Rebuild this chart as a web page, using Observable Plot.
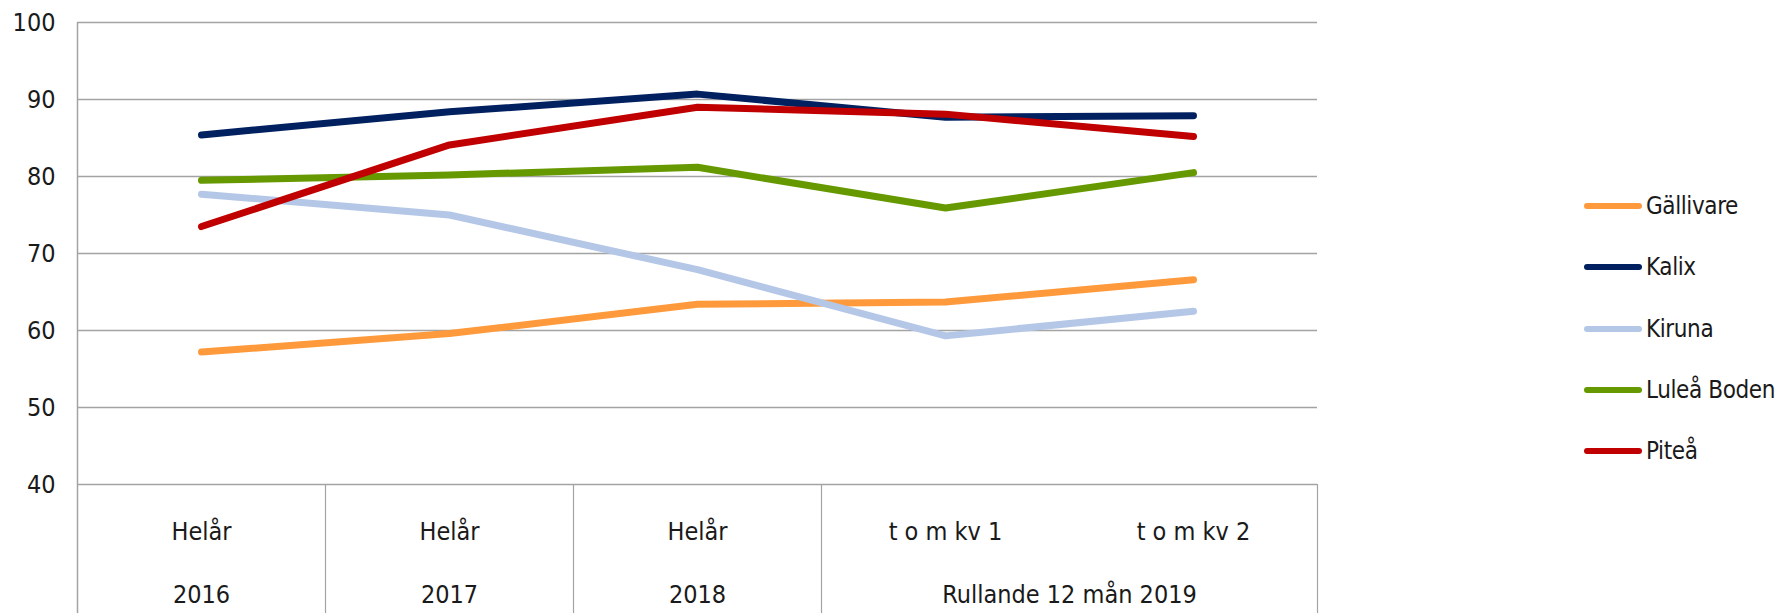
<!DOCTYPE html>
<html><head><meta charset="utf-8">
<script src="https://cdn.jsdelivr.net/npm/d3@7"></script>
<script src="https://cdn.jsdelivr.net/npm/@observablehq/plot@0.6"></script>
<style>
body{margin:0;background:#fff;}
#wrap{position:relative;width:1783px;height:613px;font-family:'Liberation Sans Narrow','DejaVu Sans Condensed','Arial Narrow',sans-serif;color:#1a1a1a;}
#legend{position:absolute;left:1584px;top:0;}
.item{position:absolute;left:0;display:flex;align-items:center;white-space:nowrap;transform:translateY(-50%);font-size:24px;letter-spacing:-0.4px;}
.sw{width:58px;height:6px;border-radius:3px;margin-right:4px;}
</style>
</head><body>
<div id="wrap"><div id="chart"></div><div id="legend"></div></div>
<script>
const periods = ["Helår", "Helår", "Helår", "t o m kv 1", "t o m kv 2"];
const groups = ["2016", "2017", "2018", "Rullande 12 mån 2019", "Rullande 12 mån 2019"];
const seriesNames = ["Gällivare", "Kalix", "Kiruna", "Luleå Boden", "Piteå"];
const gallivare = [57.2, 59.6, 63.4, 63.7, 66.6];
const kalix = [85.4, 88.4, 90.7, 87.7, 87.9];
const kiruna = [77.7, 75.0, 67.9, 59.3, 62.5];
const luleaBoden = [79.5, 80.2, 81.2, 75.9, 80.5];
const pitea = [73.5, 84.1, 89.0, 88.1, 85.2];
const yTicks = [40, 50, 60, 70, 80, 90, 100];

const palette = ["#FF9A3C", "#002060", "#B4C7E7", "#669900", "#C00000"];
const seriesValues = [gallivare, kalix, kiruna, luleaBoden, pitea];

const rows = seriesNames.flatMap((name, s) =>
  seriesValues[s].map((v, i) => ({series: name, i, value: v})));

// group spans for the two-level category axis
const spans = [];
groups.forEach((g, i) => {
  const last = spans[spans.length - 1];
  if (last && last.name === g) last.end = i;
  else spans.push({name: g, start: i, end: i});
});
spans.forEach(s => s.mid = (s.start + s.end) / 2);
const innerBounds = spans.map(s => s.end + 0.5);
const leftBound = [spans[0].start - 0.5];

const W = 1783, H = 613, mL = 77, mR = 466, mT = 22, mB = 129;
const frameH = H - mT - mB;
const grid = "#a3a3a3";
const font = "'Liberation Sans Narrow','DejaVu Sans Condensed','Arial Narrow',sans-serif";

const chart = Plot.plot({
  width: W, height: H,
  marginLeft: mL, marginRight: mR, marginTop: mT, marginBottom: mB,
  style: {fontFamily: font, color: "#1a1a1a", background: "#fff"},
  x: {type: "linear", domain: [-0.5, periods.length - 0.5], axis: null},
  y: {domain: [40, 100], axis: null},
  color: {domain: seriesNames, range: palette},
  marks: [
    Plot.ruleY(yTicks, {stroke: grid, strokeWidth: 1.5}),
    Plot.ruleX(leftBound, {stroke: grid, strokeWidth: 1.5, insetBottom: -mB}),
    Plot.ruleX(innerBounds, {stroke: grid, strokeWidth: 1.2, insetTop: frameH, insetBottom: -mB}),
    Plot.axisY(yTicks, {tickSize: 0, tickPadding: 22, fontSize: 25, label: null, tickFormat: d => String(d)}),
    Plot.line(rows, {x: "i", y: "value", z: "series", stroke: "series", strokeWidth: 7,
      strokeLinejoin: "round", strokeLinecap: "round"}),
    Plot.text(periods, {x: (d, i) => i, text: d => d, frameAnchor: "bottom", dy: 55, fontSize: 25}),
    Plot.text(spans, {x: "mid", text: "name", frameAnchor: "bottom", dy: 118, fontSize: 25})
  ]
});
document.getElementById("chart").appendChild(chart);

const legend = document.getElementById("legend");
const legendRows = [206, 267, 329, 390, 451];
seriesNames.forEach((name, k) => {
  const it = document.createElement("div");
  it.className = "item";
  it.style.top = legendRows[k] + "px";
  const sw = document.createElement("span");
  sw.className = "sw";
  sw.style.background = palette[k];
  const tx = document.createElement("span");
  tx.textContent = name;
  it.appendChild(sw); it.appendChild(tx);
  legend.appendChild(it);
});
</script>
</body></html>
